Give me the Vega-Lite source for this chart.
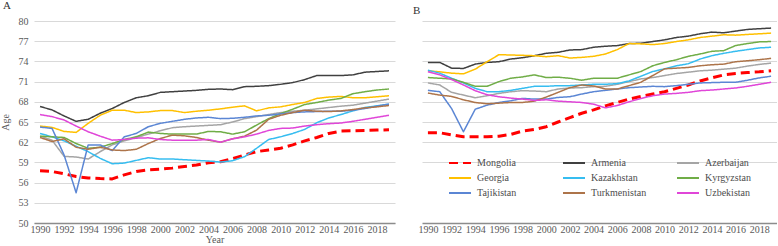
{
"$schema": "https://vega.github.io/schema/vega-lite/v6.json",
"padding": {"top": 0, "left": 0, "right": 0, "bottom": 0},
"background": "white",
"config": {
  "view": {"stroke": null},
  "font": "Liberation Serif",
  "axis": {"labelFont": "Liberation Serif", "titleFont": "Liberation Serif", "labelColor": "#595959", "titleColor": "#595959", "labelFontSize": 10, "titleFontSize": 10, "titleFontWeight": "normal", "gridColor": "#d9d9d9", "gridWidth": 1, "ticks": false},
  "title": {"font": "Liberation Serif", "fontSize": 11, "fontWeight": "normal", "anchor": "start", "frame": "bounds", "color": "#333333", "offset": 5},
  "line": {"strokeJoin": "round"}
},
"datasets": {
"male": [
{"country":"Mongolia","year":1990,"age":57.75},{"country":"Mongolia","year":1991,"age":57.65},{"country":"Mongolia","year":1992,"age":57.3},{"country":"Mongolia","year":1993,"age":56.9},{"country":"Mongolia","year":1994,"age":56.7},{"country":"Mongolia","year":1995,"age":56.6},{"country":"Mongolia","year":1996,"age":56.55},{"country":"Mongolia","year":1997,"age":57.15},{"country":"Mongolia","year":1998,"age":57.65},{"country":"Mongolia","year":1999,"age":57.9},{"country":"Mongolia","year":2000,"age":58.0},{"country":"Mongolia","year":2001,"age":58.15},{"country":"Mongolia","year":2002,"age":58.4},{"country":"Mongolia","year":2003,"age":58.6},{"country":"Mongolia","year":2004,"age":58.95},{"country":"Mongolia","year":2005,"age":59.1},{"country":"Mongolia","year":2006,"age":59.55},{"country":"Mongolia","year":2007,"age":60.1},{"country":"Mongolia","year":2008,"age":60.6},{"country":"Mongolia","year":2009,"age":60.85},{"country":"Mongolia","year":2010,"age":61.1},{"country":"Mongolia","year":2011,"age":61.6},{"country":"Mongolia","year":2012,"age":62.2},{"country":"Mongolia","year":2013,"age":62.7},{"country":"Mongolia","year":2014,"age":63.3},{"country":"Mongolia","year":2015,"age":63.65},{"country":"Mongolia","year":2016,"age":63.7},{"country":"Mongolia","year":2017,"age":63.75},{"country":"Mongolia","year":2018,"age":63.8},{"country":"Mongolia","year":2019,"age":63.85},
{"country":"Armenia","year":1990,"age":67.3},{"country":"Armenia","year":1991,"age":66.8},{"country":"Armenia","year":1992,"age":65.9},{"country":"Armenia","year":1993,"age":65.1},{"country":"Armenia","year":1994,"age":65.4},{"country":"Armenia","year":1995,"age":66.3},{"country":"Armenia","year":1996,"age":67.0},{"country":"Armenia","year":1997,"age":67.9},{"country":"Armenia","year":1998,"age":68.6},{"country":"Armenia","year":1999,"age":68.9},{"country":"Armenia","year":2000,"age":69.4},{"country":"Armenia","year":2001,"age":69.5},{"country":"Armenia","year":2002,"age":69.6},{"country":"Armenia","year":2003,"age":69.7},{"country":"Armenia","year":2004,"age":69.85},{"country":"Armenia","year":2005,"age":69.9},{"country":"Armenia","year":2006,"age":69.8},{"country":"Armenia","year":2007,"age":70.25},{"country":"Armenia","year":2008,"age":70.3},{"country":"Armenia","year":2009,"age":70.4},{"country":"Armenia","year":2010,"age":70.6},{"country":"Armenia","year":2011,"age":70.85},{"country":"Armenia","year":2012,"age":71.3},{"country":"Armenia","year":2013,"age":71.9},{"country":"Armenia","year":2014,"age":71.9},{"country":"Armenia","year":2015,"age":71.9},{"country":"Armenia","year":2016,"age":72.0},{"country":"Armenia","year":2017,"age":72.4},{"country":"Armenia","year":2018,"age":72.5},{"country":"Armenia","year":2019,"age":72.6},
{"country":"Azerbaijan","year":1990,"age":62.9},{"country":"Azerbaijan","year":1991,"age":62.3},{"country":"Azerbaijan","year":1992,"age":59.9},{"country":"Azerbaijan","year":1993,"age":59.8},{"country":"Azerbaijan","year":1994,"age":59.5},{"country":"Azerbaijan","year":1995,"age":60.6},{"country":"Azerbaijan","year":1996,"age":61.6},{"country":"Azerbaijan","year":1997,"age":62.2},{"country":"Azerbaijan","year":1998,"age":62.7},{"country":"Azerbaijan","year":1999,"age":63.2},{"country":"Azerbaijan","year":2000,"age":63.7},{"country":"Azerbaijan","year":2001,"age":64.15},{"country":"Azerbaijan","year":2002,"age":64.3},{"country":"Azerbaijan","year":2003,"age":64.4},{"country":"Azerbaijan","year":2004,"age":64.5},{"country":"Azerbaijan","year":2005,"age":64.6},{"country":"Azerbaijan","year":2006,"age":65.0},{"country":"Azerbaijan","year":2007,"age":65.5},{"country":"Azerbaijan","year":2008,"age":65.8},{"country":"Azerbaijan","year":2009,"age":66.1},{"country":"Azerbaijan","year":2010,"age":66.4},{"country":"Azerbaijan","year":2011,"age":66.6},{"country":"Azerbaijan","year":2012,"age":66.75},{"country":"Azerbaijan","year":2013,"age":66.95},{"country":"Azerbaijan","year":2014,"age":67.15},{"country":"Azerbaijan","year":2015,"age":67.35},{"country":"Azerbaijan","year":2016,"age":67.5},{"country":"Azerbaijan","year":2017,"age":67.8},{"country":"Azerbaijan","year":2018,"age":68.1},{"country":"Azerbaijan","year":2019,"age":68.4},
{"country":"Georgia","year":1990,"age":64.4},{"country":"Georgia","year":1991,"age":64.2},{"country":"Georgia","year":1992,"age":63.6},{"country":"Georgia","year":1993,"age":63.45},{"country":"Georgia","year":1994,"age":64.8},{"country":"Georgia","year":1995,"age":66.0},{"country":"Georgia","year":1996,"age":66.75},{"country":"Georgia","year":1997,"age":66.75},{"country":"Georgia","year":1998,"age":66.4},{"country":"Georgia","year":1999,"age":66.5},{"country":"Georgia","year":2000,"age":66.7},{"country":"Georgia","year":2001,"age":66.7},{"country":"Georgia","year":2002,"age":66.4},{"country":"Georgia","year":2003,"age":66.6},{"country":"Georgia","year":2004,"age":66.75},{"country":"Georgia","year":2005,"age":66.95},{"country":"Georgia","year":2006,"age":67.2},{"country":"Georgia","year":2007,"age":67.4},{"country":"Georgia","year":2008,"age":66.65},{"country":"Georgia","year":2009,"age":67.1},{"country":"Georgia","year":2010,"age":67.25},{"country":"Georgia","year":2011,"age":67.6},{"country":"Georgia","year":2012,"age":67.9},{"country":"Georgia","year":2013,"age":68.5},{"country":"Georgia","year":2014,"age":68.7},{"country":"Georgia","year":2015,"age":68.8},{"country":"Georgia","year":2016,"age":68.6},{"country":"Georgia","year":2017,"age":68.6},{"country":"Georgia","year":2018,"age":68.75},{"country":"Georgia","year":2019,"age":68.9},
{"country":"Kazakhstan","year":1990,"age":63.3},{"country":"Kazakhstan","year":1991,"age":62.8},{"country":"Kazakhstan","year":1992,"age":62.2},{"country":"Kazakhstan","year":1993,"age":61.4},{"country":"Kazakhstan","year":1994,"age":60.6},{"country":"Kazakhstan","year":1995,"age":59.6},{"country":"Kazakhstan","year":1996,"age":58.8},{"country":"Kazakhstan","year":1997,"age":58.9},{"country":"Kazakhstan","year":1998,"age":59.3},{"country":"Kazakhstan","year":1999,"age":59.7},{"country":"Kazakhstan","year":2000,"age":59.5},{"country":"Kazakhstan","year":2001,"age":59.5},{"country":"Kazakhstan","year":2002,"age":59.4},{"country":"Kazakhstan","year":2003,"age":59.3},{"country":"Kazakhstan","year":2004,"age":59.2},{"country":"Kazakhstan","year":2005,"age":59.05},{"country":"Kazakhstan","year":2006,"age":59.25},{"country":"Kazakhstan","year":2007,"age":59.85},{"country":"Kazakhstan","year":2008,"age":61.1},{"country":"Kazakhstan","year":2009,"age":62.4},{"country":"Kazakhstan","year":2010,"age":62.8},{"country":"Kazakhstan","year":2011,"age":63.3},{"country":"Kazakhstan","year":2012,"age":63.9},{"country":"Kazakhstan","year":2013,"age":64.9},{"country":"Kazakhstan","year":2014,"age":65.6},{"country":"Kazakhstan","year":2015,"age":66.1},{"country":"Kazakhstan","year":2016,"age":66.65},{"country":"Kazakhstan","year":2017,"age":67.15},{"country":"Kazakhstan","year":2018,"age":67.4},{"country":"Kazakhstan","year":2019,"age":67.65},
{"country":"Kyrgyzstan","year":1990,"age":62.9},{"country":"Kyrgyzstan","year":1991,"age":62.8},{"country":"Kyrgyzstan","year":1992,"age":62.7},{"country":"Kyrgyzstan","year":1993,"age":61.8},{"country":"Kyrgyzstan","year":1994,"age":61.1},{"country":"Kyrgyzstan","year":1995,"age":61.25},{"country":"Kyrgyzstan","year":1996,"age":61.8},{"country":"Kyrgyzstan","year":1997,"age":62.4},{"country":"Kyrgyzstan","year":1998,"age":62.8},{"country":"Kyrgyzstan","year":1999,"age":63.5},{"country":"Kyrgyzstan","year":2000,"age":63.3},{"country":"Kyrgyzstan","year":2001,"age":63.2},{"country":"Kyrgyzstan","year":2002,"age":63.2},{"country":"Kyrgyzstan","year":2003,"age":63.2},{"country":"Kyrgyzstan","year":2004,"age":63.6},{"country":"Kyrgyzstan","year":2005,"age":63.55},{"country":"Kyrgyzstan","year":2006,"age":63.2},{"country":"Kyrgyzstan","year":2007,"age":63.55},{"country":"Kyrgyzstan","year":2008,"age":64.55},{"country":"Kyrgyzstan","year":2009,"age":65.5},{"country":"Kyrgyzstan","year":2010,"age":66.25},{"country":"Kyrgyzstan","year":2011,"age":66.9},{"country":"Kyrgyzstan","year":2012,"age":67.6},{"country":"Kyrgyzstan","year":2013,"age":67.9},{"country":"Kyrgyzstan","year":2014,"age":68.25},{"country":"Kyrgyzstan","year":2015,"age":68.5},{"country":"Kyrgyzstan","year":2016,"age":69.2},{"country":"Kyrgyzstan","year":2017,"age":69.5},{"country":"Kyrgyzstan","year":2018,"age":69.75},{"country":"Kyrgyzstan","year":2019,"age":69.9},
{"country":"Tajikistan","year":1990,"age":64.25},{"country":"Tajikistan","year":1991,"age":64.05},{"country":"Tajikistan","year":1992,"age":60.1},{"country":"Tajikistan","year":1993,"age":54.5},{"country":"Tajikistan","year":1994,"age":61.6},{"country":"Tajikistan","year":1995,"age":61.6},{"country":"Tajikistan","year":1996,"age":60.75},{"country":"Tajikistan","year":1997,"age":62.8},{"country":"Tajikistan","year":1998,"age":63.3},{"country":"Tajikistan","year":1999,"age":64.3},{"country":"Tajikistan","year":2000,"age":64.8},{"country":"Tajikistan","year":2001,"age":65.1},{"country":"Tajikistan","year":2002,"age":65.4},{"country":"Tajikistan","year":2003,"age":65.6},{"country":"Tajikistan","year":2004,"age":65.7},{"country":"Tajikistan","year":2005,"age":65.5},{"country":"Tajikistan","year":2006,"age":65.55},{"country":"Tajikistan","year":2007,"age":65.7},{"country":"Tajikistan","year":2008,"age":65.9},{"country":"Tajikistan","year":2009,"age":66.0},{"country":"Tajikistan","year":2010,"age":66.2},{"country":"Tajikistan","year":2011,"age":66.4},{"country":"Tajikistan","year":2012,"age":66.5},{"country":"Tajikistan","year":2013,"age":66.55},{"country":"Tajikistan","year":2014,"age":66.6},{"country":"Tajikistan","year":2015,"age":66.6},{"country":"Tajikistan","year":2016,"age":66.75},{"country":"Tajikistan","year":2017,"age":67.0},{"country":"Tajikistan","year":2018,"age":67.35},{"country":"Tajikistan","year":2019,"age":67.65},
{"country":"Turkmenistan","year":1990,"age":62.7},{"country":"Turkmenistan","year":1991,"age":62.1},{"country":"Turkmenistan","year":1992,"age":62.5},{"country":"Turkmenistan","year":1993,"age":61.25},{"country":"Turkmenistan","year":1994,"age":60.95},{"country":"Turkmenistan","year":1995,"age":61.25},{"country":"Turkmenistan","year":1996,"age":60.85},{"country":"Turkmenistan","year":1997,"age":60.75},{"country":"Turkmenistan","year":1998,"age":60.95},{"country":"Turkmenistan","year":1999,"age":61.8},{"country":"Turkmenistan","year":2000,"age":62.55},{"country":"Turkmenistan","year":2001,"age":63.05},{"country":"Turkmenistan","year":2002,"age":62.95},{"country":"Turkmenistan","year":2003,"age":62.7},{"country":"Turkmenistan","year":2004,"age":62.3},{"country":"Turkmenistan","year":2005,"age":62.0},{"country":"Turkmenistan","year":2006,"age":62.5},{"country":"Turkmenistan","year":2007,"age":62.9},{"country":"Turkmenistan","year":2008,"age":63.8},{"country":"Turkmenistan","year":2009,"age":65.4},{"country":"Turkmenistan","year":2010,"age":66.0},{"country":"Turkmenistan","year":2011,"age":66.4},{"country":"Turkmenistan","year":2012,"age":66.75},{"country":"Turkmenistan","year":2013,"age":66.6},{"country":"Turkmenistan","year":2014,"age":66.55},{"country":"Turkmenistan","year":2015,"age":66.65},{"country":"Turkmenistan","year":2016,"age":66.85},{"country":"Turkmenistan","year":2017,"age":67.1},{"country":"Turkmenistan","year":2018,"age":67.25},{"country":"Turkmenistan","year":2019,"age":67.45},
{"country":"Uzbekistan","year":1990,"age":66.1},{"country":"Uzbekistan","year":1991,"age":65.8},{"country":"Uzbekistan","year":1992,"age":65.3},{"country":"Uzbekistan","year":1993,"age":64.4},{"country":"Uzbekistan","year":1994,"age":63.55},{"country":"Uzbekistan","year":1995,"age":62.9},{"country":"Uzbekistan","year":1996,"age":62.3},{"country":"Uzbekistan","year":1997,"age":62.4},{"country":"Uzbekistan","year":1998,"age":62.6},{"country":"Uzbekistan","year":1999,"age":62.65},{"country":"Uzbekistan","year":2000,"age":62.4},{"country":"Uzbekistan","year":2001,"age":62.3},{"country":"Uzbekistan","year":2002,"age":62.3},{"country":"Uzbekistan","year":2003,"age":62.3},{"country":"Uzbekistan","year":2004,"age":62.4},{"country":"Uzbekistan","year":2005,"age":62.0},{"country":"Uzbekistan","year":2006,"age":62.5},{"country":"Uzbekistan","year":2007,"age":62.8},{"country":"Uzbekistan","year":2008,"age":63.2},{"country":"Uzbekistan","year":2009,"age":63.75},{"country":"Uzbekistan","year":2010,"age":64.05},{"country":"Uzbekistan","year":2011,"age":64.1},{"country":"Uzbekistan","year":2012,"age":64.4},{"country":"Uzbekistan","year":2013,"age":64.6},{"country":"Uzbekistan","year":2014,"age":64.75},{"country":"Uzbekistan","year":2015,"age":64.85},{"country":"Uzbekistan","year":2016,"age":65.1},{"country":"Uzbekistan","year":2017,"age":65.4},{"country":"Uzbekistan","year":2018,"age":65.7},{"country":"Uzbekistan","year":2019,"age":66.0}
],
"female": [
{"country":"Mongolia","year":1990,"age":63.4},{"country":"Mongolia","year":1991,"age":63.4},{"country":"Mongolia","year":1992,"age":63.1},{"country":"Mongolia","year":1993,"age":62.8},{"country":"Mongolia","year":1994,"age":62.8},{"country":"Mongolia","year":1995,"age":62.8},{"country":"Mongolia","year":1996,"age":62.9},{"country":"Mongolia","year":1997,"age":63.15},{"country":"Mongolia","year":1998,"age":63.65},{"country":"Mongolia","year":1999,"age":63.9},{"country":"Mongolia","year":2000,"age":64.3},{"country":"Mongolia","year":2001,"age":65.0},{"country":"Mongolia","year":2002,"age":65.65},{"country":"Mongolia","year":2003,"age":66.3},{"country":"Mongolia","year":2004,"age":66.8},{"country":"Mongolia","year":2005,"age":67.4},{"country":"Mongolia","year":2006,"age":67.9},{"country":"Mongolia","year":2007,"age":68.4},{"country":"Mongolia","year":2008,"age":68.8},{"country":"Mongolia","year":2009,"age":69.15},{"country":"Mongolia","year":2010,"age":69.5},{"country":"Mongolia","year":2011,"age":70.0},{"country":"Mongolia","year":2012,"age":70.5},{"country":"Mongolia","year":2013,"age":71.1},{"country":"Mongolia","year":2014,"age":71.55},{"country":"Mongolia","year":2015,"age":72.0},{"country":"Mongolia","year":2016,"age":72.2},{"country":"Mongolia","year":2017,"age":72.35},{"country":"Mongolia","year":2018,"age":72.45},{"country":"Mongolia","year":2019,"age":72.6},
{"country":"Armenia","year":1990,"age":73.85},{"country":"Armenia","year":1991,"age":73.85},{"country":"Armenia","year":1992,"age":73.0},{"country":"Armenia","year":1993,"age":72.95},{"country":"Armenia","year":1994,"age":73.6},{"country":"Armenia","year":1995,"age":73.85},{"country":"Armenia","year":1996,"age":73.95},{"country":"Armenia","year":1997,"age":74.35},{"country":"Armenia","year":1998,"age":74.55},{"country":"Armenia","year":1999,"age":74.85},{"country":"Armenia","year":2000,"age":75.2},{"country":"Armenia","year":2001,"age":75.35},{"country":"Armenia","year":2002,"age":75.7},{"country":"Armenia","year":2003,"age":75.75},{"country":"Armenia","year":2004,"age":76.1},{"country":"Armenia","year":2005,"age":76.25},{"country":"Armenia","year":2006,"age":76.35},{"country":"Armenia","year":2007,"age":76.65},{"country":"Armenia","year":2008,"age":76.7},{"country":"Armenia","year":2009,"age":76.95},{"country":"Armenia","year":2010,"age":77.2},{"country":"Armenia","year":2011,"age":77.55},{"country":"Armenia","year":2012,"age":77.75},{"country":"Armenia","year":2013,"age":78.1},{"country":"Armenia","year":2014,"age":78.35},{"country":"Armenia","year":2015,"age":78.25},{"country":"Armenia","year":2016,"age":78.5},{"country":"Armenia","year":2017,"age":78.75},{"country":"Armenia","year":2018,"age":78.85},{"country":"Armenia","year":2019,"age":78.95},
{"country":"Azerbaijan","year":1990,"age":70.8},{"country":"Azerbaijan","year":1991,"age":70.5},{"country":"Azerbaijan","year":1992,"age":69.4},{"country":"Azerbaijan","year":1993,"age":69.0},{"country":"Azerbaijan","year":1994,"age":68.6},{"country":"Azerbaijan","year":1995,"age":68.9},{"country":"Azerbaijan","year":1996,"age":69.25},{"country":"Azerbaijan","year":1997,"age":69.5},{"country":"Azerbaijan","year":1998,"age":69.65},{"country":"Azerbaijan","year":1999,"age":69.6},{"country":"Azerbaijan","year":2000,"age":69.5},{"country":"Azerbaijan","year":2001,"age":69.9},{"country":"Azerbaijan","year":2002,"age":70.05},{"country":"Azerbaijan","year":2003,"age":70.1},{"country":"Azerbaijan","year":2004,"age":70.25},{"country":"Azerbaijan","year":2005,"age":70.3},{"country":"Azerbaijan","year":2006,"age":70.6},{"country":"Azerbaijan","year":2007,"age":71.0},{"country":"Azerbaijan","year":2008,"age":71.4},{"country":"Azerbaijan","year":2009,"age":71.6},{"country":"Azerbaijan","year":2010,"age":71.9},{"country":"Azerbaijan","year":2011,"age":72.2},{"country":"Azerbaijan","year":2012,"age":72.4},{"country":"Azerbaijan","year":2013,"age":72.6},{"country":"Azerbaijan","year":2014,"age":72.7},{"country":"Azerbaijan","year":2015,"age":72.85},{"country":"Azerbaijan","year":2016,"age":73.0},{"country":"Azerbaijan","year":2017,"age":73.3},{"country":"Azerbaijan","year":2018,"age":73.55},{"country":"Azerbaijan","year":2019,"age":73.75},
{"country":"Georgia","year":1990,"age":72.6},{"country":"Georgia","year":1991,"age":72.45},{"country":"Georgia","year":1992,"age":72.25},{"country":"Georgia","year":1993,"age":72.15},{"country":"Georgia","year":1994,"age":72.85},{"country":"Georgia","year":1995,"age":73.95},{"country":"Georgia","year":1996,"age":75.0},{"country":"Georgia","year":1997,"age":74.95},{"country":"Georgia","year":1998,"age":74.9},{"country":"Georgia","year":1999,"age":74.85},{"country":"Georgia","year":2000,"age":74.7},{"country":"Georgia","year":2001,"age":74.85},{"country":"Georgia","year":2002,"age":74.5},{"country":"Georgia","year":2003,"age":74.6},{"country":"Georgia","year":2004,"age":74.75},{"country":"Georgia","year":2005,"age":75.1},{"country":"Georgia","year":2006,"age":75.75},{"country":"Georgia","year":2007,"age":76.65},{"country":"Georgia","year":2008,"age":76.6},{"country":"Georgia","year":2009,"age":76.5},{"country":"Georgia","year":2010,"age":76.65},{"country":"Georgia","year":2011,"age":76.95},{"country":"Georgia","year":2012,"age":77.2},{"country":"Georgia","year":2013,"age":77.55},{"country":"Georgia","year":2014,"age":77.75},{"country":"Georgia","year":2015,"age":77.95},{"country":"Georgia","year":2016,"age":77.9},{"country":"Georgia","year":2017,"age":78.0},{"country":"Georgia","year":2018,"age":78.1},{"country":"Georgia","year":2019,"age":78.2},
{"country":"Kazakhstan","year":1990,"age":72.7},{"country":"Kazakhstan","year":1991,"age":72.25},{"country":"Kazakhstan","year":1992,"age":71.5},{"country":"Kazakhstan","year":1993,"age":70.8},{"country":"Kazakhstan","year":1994,"age":70.0},{"country":"Kazakhstan","year":1995,"age":69.5},{"country":"Kazakhstan","year":1996,"age":69.5},{"country":"Kazakhstan","year":1997,"age":69.7},{"country":"Kazakhstan","year":1998,"age":70.0},{"country":"Kazakhstan","year":1999,"age":70.3},{"country":"Kazakhstan","year":2000,"age":70.3},{"country":"Kazakhstan","year":2001,"age":70.4},{"country":"Kazakhstan","year":2002,"age":70.4},{"country":"Kazakhstan","year":2003,"age":70.5},{"country":"Kazakhstan","year":2004,"age":70.6},{"country":"Kazakhstan","year":2005,"age":70.6},{"country":"Kazakhstan","year":2006,"age":70.7},{"country":"Kazakhstan","year":2007,"age":71.1},{"country":"Kazakhstan","year":2008,"age":71.8},{"country":"Kazakhstan","year":2009,"age":72.5},{"country":"Kazakhstan","year":2010,"age":72.9},{"country":"Kazakhstan","year":2011,"age":73.35},{"country":"Kazakhstan","year":2012,"age":73.65},{"country":"Kazakhstan","year":2013,"age":74.35},{"country":"Kazakhstan","year":2014,"age":74.85},{"country":"Kazakhstan","year":2015,"age":75.2},{"country":"Kazakhstan","year":2016,"age":75.5},{"country":"Kazakhstan","year":2017,"age":75.75},{"country":"Kazakhstan","year":2018,"age":76.0},{"country":"Kazakhstan","year":2019,"age":76.1},
{"country":"Kyrgyzstan","year":1990,"age":71.6},{"country":"Kyrgyzstan","year":1991,"age":71.5},{"country":"Kyrgyzstan","year":1992,"age":71.4},{"country":"Kyrgyzstan","year":1993,"age":70.9},{"country":"Kyrgyzstan","year":1994,"age":70.3},{"country":"Kyrgyzstan","year":1995,"age":70.3},{"country":"Kyrgyzstan","year":1996,"age":71.0},{"country":"Kyrgyzstan","year":1997,"age":71.5},{"country":"Kyrgyzstan","year":1998,"age":71.7},{"country":"Kyrgyzstan","year":1999,"age":72.0},{"country":"Kyrgyzstan","year":2000,"age":71.6},{"country":"Kyrgyzstan","year":2001,"age":71.65},{"country":"Kyrgyzstan","year":2002,"age":71.5},{"country":"Kyrgyzstan","year":2003,"age":71.2},{"country":"Kyrgyzstan","year":2004,"age":71.5},{"country":"Kyrgyzstan","year":2005,"age":71.5},{"country":"Kyrgyzstan","year":2006,"age":71.5},{"country":"Kyrgyzstan","year":2007,"age":72.0},{"country":"Kyrgyzstan","year":2008,"age":72.5},{"country":"Kyrgyzstan","year":2009,"age":73.35},{"country":"Kyrgyzstan","year":2010,"age":73.85},{"country":"Kyrgyzstan","year":2011,"age":74.25},{"country":"Kyrgyzstan","year":2012,"age":74.75},{"country":"Kyrgyzstan","year":2013,"age":75.1},{"country":"Kyrgyzstan","year":2014,"age":75.5},{"country":"Kyrgyzstan","year":2015,"age":75.6},{"country":"Kyrgyzstan","year":2016,"age":76.35},{"country":"Kyrgyzstan","year":2017,"age":76.65},{"country":"Kyrgyzstan","year":2018,"age":76.9},{"country":"Kyrgyzstan","year":2019,"age":76.95},
{"country":"Tajikistan","year":1990,"age":69.7},{"country":"Tajikistan","year":1991,"age":69.5},{"country":"Tajikistan","year":1992,"age":67.0},{"country":"Tajikistan","year":1993,"age":63.55},{"country":"Tajikistan","year":1994,"age":66.9},{"country":"Tajikistan","year":1995,"age":67.5},{"country":"Tajikistan","year":1996,"age":67.9},{"country":"Tajikistan","year":1997,"age":68.15},{"country":"Tajikistan","year":1998,"age":68.5},{"country":"Tajikistan","year":1999,"age":68.4},{"country":"Tajikistan","year":2000,"age":68.4},{"country":"Tajikistan","year":2001,"age":68.65},{"country":"Tajikistan","year":2002,"age":68.75},{"country":"Tajikistan","year":2003,"age":69.15},{"country":"Tajikistan","year":2004,"age":69.5},{"country":"Tajikistan","year":2005,"age":69.7},{"country":"Tajikistan","year":2006,"age":69.9},{"country":"Tajikistan","year":2007,"age":70.1},{"country":"Tajikistan","year":2008,"age":70.2},{"country":"Tajikistan","year":2009,"age":70.3},{"country":"Tajikistan","year":2010,"age":70.25},{"country":"Tajikistan","year":2011,"age":70.4},{"country":"Tajikistan","year":2012,"age":70.6},{"country":"Tajikistan","year":2013,"age":70.8},{"country":"Tajikistan","year":2014,"age":70.85},{"country":"Tajikistan","year":2015,"age":70.9},{"country":"Tajikistan","year":2016,"age":70.9},{"country":"Tajikistan","year":2017,"age":71.2},{"country":"Tajikistan","year":2018,"age":71.55},{"country":"Tajikistan","year":2019,"age":71.8},
{"country":"Turkmenistan","year":1990,"age":69.3},{"country":"Turkmenistan","year":1991,"age":69.0},{"country":"Turkmenistan","year":1992,"age":68.8},{"country":"Turkmenistan","year":1993,"age":68.3},{"country":"Turkmenistan","year":1994,"age":67.9},{"country":"Turkmenistan","year":1995,"age":67.7},{"country":"Turkmenistan","year":1996,"age":67.8},{"country":"Turkmenistan","year":1997,"age":67.9},{"country":"Turkmenistan","year":1998,"age":67.9},{"country":"Turkmenistan","year":1999,"age":68.1},{"country":"Turkmenistan","year":2000,"age":68.7},{"country":"Turkmenistan","year":2001,"age":69.4},{"country":"Turkmenistan","year":2002,"age":70.1},{"country":"Turkmenistan","year":2003,"age":70.5},{"country":"Turkmenistan","year":2004,"age":70.35},{"country":"Turkmenistan","year":2005,"age":69.9},{"country":"Turkmenistan","year":2006,"age":69.9},{"country":"Turkmenistan","year":2007,"age":70.4},{"country":"Turkmenistan","year":2008,"age":70.9},{"country":"Turkmenistan","year":2009,"age":71.9},{"country":"Turkmenistan","year":2010,"age":72.9},{"country":"Turkmenistan","year":2011,"age":73.0},{"country":"Turkmenistan","year":2012,"age":73.1},{"country":"Turkmenistan","year":2013,"age":73.35},{"country":"Turkmenistan","year":2014,"age":73.5},{"country":"Turkmenistan","year":2015,"age":73.6},{"country":"Turkmenistan","year":2016,"age":73.95},{"country":"Turkmenistan","year":2017,"age":74.1},{"country":"Turkmenistan","year":2018,"age":74.25},{"country":"Turkmenistan","year":2019,"age":74.45},
{"country":"Uzbekistan","year":1990,"age":72.45},{"country":"Uzbekistan","year":1991,"age":72.0},{"country":"Uzbekistan","year":1992,"age":71.3},{"country":"Uzbekistan","year":1993,"age":70.5},{"country":"Uzbekistan","year":1994,"age":69.65},{"country":"Uzbekistan","year":1995,"age":69.05},{"country":"Uzbekistan","year":1996,"age":68.75},{"country":"Uzbekistan","year":1997,"age":68.55},{"country":"Uzbekistan","year":1998,"age":68.4},{"country":"Uzbekistan","year":1999,"age":68.2},{"country":"Uzbekistan","year":2000,"age":68.3},{"country":"Uzbekistan","year":2001,"age":68.1},{"country":"Uzbekistan","year":2002,"age":68.0},{"country":"Uzbekistan","year":2003,"age":67.9},{"country":"Uzbekistan","year":2004,"age":67.65},{"country":"Uzbekistan","year":2005,"age":67.1},{"country":"Uzbekistan","year":2006,"age":67.45},{"country":"Uzbekistan","year":2007,"age":68.0},{"country":"Uzbekistan","year":2008,"age":68.5},{"country":"Uzbekistan","year":2009,"age":68.9},{"country":"Uzbekistan","year":2010,"age":69.15},{"country":"Uzbekistan","year":2011,"age":69.25},{"country":"Uzbekistan","year":2012,"age":69.4},{"country":"Uzbekistan","year":2013,"age":69.65},{"country":"Uzbekistan","year":2014,"age":69.75},{"country":"Uzbekistan","year":2015,"age":69.9},{"country":"Uzbekistan","year":2016,"age":70.05},{"country":"Uzbekistan","year":2017,"age":70.3},{"country":"Uzbekistan","year":2018,"age":70.6},{"country":"Uzbekistan","year":2019,"age":70.9}
]
},
"spacing": 17,
"hconcat": [
{
  "title": {"text": "A", "dx": 3},
  "width": 361, "height": 202,
  "data": {"name": "male"},
  "mark": {"type": "line"},
  "encoding": {
    "x": {"field": "year", "type": "quantitative", "scale": {"domain": [1989.5, 2019.5], "nice": false, "zero": false},
          "axis": {"values": [1990,1992,1994,1996,1998,2000,2002,2004,2006,2008,2010,2012,2014,2016,2018], "format": "d", "title": "Year", "grid": false, "labelPadding": 1, "titlePadding": 0, "domainColor": "#8c8c8c", "domainWidth": 1.5, "labelFlush": false}},
    "y": {"field": "age", "type": "quantitative", "scale": {"domain": [50, 80], "nice": false, "zero": false},
          "axis": {"values": [50,53,56,59,62,65,68,71,74,77,80], "title": "Age", "domain": false, "labelPadding": 6, "titlePadding": 8, "grid": true}},
    "color": {"field": "country", "type": "nominal", "legend": null,
              "scale": {"domain": ["Mongolia","Georgia","Tajikistan","Armenia","Kazakhstan","Turkmenistan","Azerbaijan","Kyrgyzstan","Uzbekistan"],
                        "range": ["#ff0000","#ffc000","#5b86d4","#404040","#36bdf0","#ad744a","#a5a5a5","#70ad47","#e046d8"]}},
    "strokeDash": {"field": "country", "type": "nominal", "legend": null,
              "scale": {"domain": ["Mongolia","Georgia","Tajikistan","Armenia","Kazakhstan","Turkmenistan","Azerbaijan","Kyrgyzstan","Uzbekistan"],
                        "range": [[9,5],[1,0],[1,0],[1,0],[1,0],[1,0],[1,0],[1,0],[1,0]]}},
    "strokeWidth": {"condition": {"test": "datum.country === 'Mongolia'", "value": 3}, "value": 1.5}
  }
},
{
  "title": {"text": "B", "dx": -5},
  "width": 355, "height": 202,
  "data": {"name": "female"},
  "mark": {"type": "line"},
  "encoding": {
    "x": {"field": "year", "type": "quantitative", "scale": {"domain": [1989.5, 2019.5], "nice": false, "zero": false},
          "axis": {"values": [1990,1992,1994,1996,1998,2000,2002,2004,2006,2008,2010,2012,2014,2016,2018], "format": "d", "title": null, "grid": false, "labelPadding": 1, "domainColor": "#8c8c8c", "domainWidth": 1.5, "labelFlush": false}},
    "y": {"field": "age", "type": "quantitative", "scale": {"domain": [50, 80], "nice": false, "zero": false},
          "axis": {"values": [59,62,65,68,71,74,77,80], "title": null, "labels": false, "domain": false, "grid": true, "minExtent": 0, "maxExtent": 0}},
    "color": {"field": "country", "type": "nominal",
              "scale": {"domain": ["Mongolia","Georgia","Tajikistan","Armenia","Kazakhstan","Turkmenistan","Azerbaijan","Kyrgyzstan","Uzbekistan"],
                        "range": ["#ff0000","#ffc000","#5b86d4","#404040","#36bdf0","#ad744a","#a5a5a5","#70ad47","#e046d8"]},
              "legend": {"title": null, "orient": "none", "legendX": 26, "legendY": 136, "columns": 3, "gridAlign": "all", "columnPadding": 29, "rowPadding": 3, "clipHeight": 12, "symbolType": "stroke", "symbolSize": 484, "symbolStrokeWidth": 2, "labelFont": "Liberation Serif", "labelFontSize": 10, "labelColor": "#4d4d4d", "labelOffset": 5, "padding": 0,
                         "encode": {"symbols": {"update": {"strokeWidth": {"signal": "datum.value === 'Mongolia' ? 3 : 2"}}}}}},
    "strokeDash": {"field": "country", "type": "nominal",
              "scale": {"domain": ["Mongolia","Georgia","Tajikistan","Armenia","Kazakhstan","Turkmenistan","Azerbaijan","Kyrgyzstan","Uzbekistan"],
                        "range": [[9,5],[1,0],[1,0],[1,0],[1,0],[1,0],[1,0],[1,0],[1,0]]}},
    "strokeWidth": {"condition": {"test": "datum.country === 'Mongolia'", "value": 3}, "value": 1.5}
  }
}
],
"resolve": {"scale": {"color": "independent", "strokeDash": "independent"}}
}
